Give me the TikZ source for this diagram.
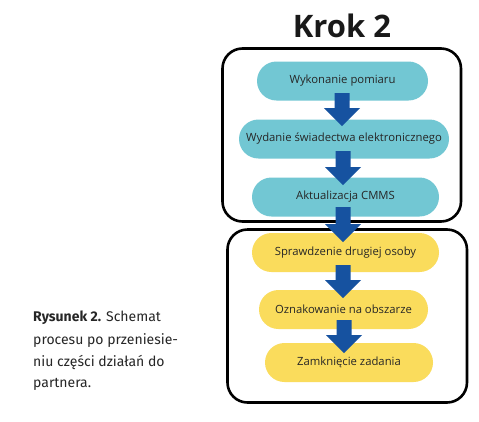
\documentclass[tikz,border=0pt]{standalone}
\usepackage{fontspec}
\setmainfont{Open Sans}
\newfontfamily\capfont{Fira Sans}
\definecolor{tealpill}{HTML}{72C7D3}
\definecolor{yellowpill}{HTML}{FADC5C}
\definecolor{arrowblue}{HTML}{1652A0}
\tikzset{
  pill/.style={rounded corners=19.5pt, minimum height=39pt, inner sep=0pt, font=\fontsize{11.3}{13}\selectfont, text=black!85},
  tealp/.style={pill, fill=tealpill},
  yellowp/.style={pill, fill=yellowpill},
  frame/.style={draw=black, line width=2.6pt, rounded corners=20pt},
  blockarrow/.style={fill=arrowblue, draw=none},
  capline/.style={anchor=base west, inner sep=0pt, font=\capfont\fontsize{14}{16}\selectfont, text=black!85}
}
\newcommand{\blockarr}[3]{% x, ytop, ytip
  \fill[blockarrow] (#1-7.5,#2) -- (#1+7.5,#2) -- (#1+7.5,#3-18) -- (#1+18,#3-18) -- (#1,#3) -- (#1-18,#3-18) -- (#1-7.5,#3-18) -- cycle;
}
\begin{document}
\begin{tikzpicture}[x=1pt,y=-1pt]
\useasboundingbox[fill=white] (0,0) rectangle (479,421);
% title
\node[font=\fontsize{31}{34}\selectfont\bfseries, text=black!90, anchor=base] (title) at (342,37) {Krok 2};
% frames
\draw[frame] (222.5,48.5) rectangle (461,221.5) coordinate (f1);
\draw[frame] (227.5,229.5) rectangle (467,402.5) coordinate (f2);
% pills
\node[tealp, minimum width=171pt] (p1) at (342.5,81) {Wykonanie pomiaru};
\node[tealp, minimum width=210pt] (p2) at (344,139) {Wydanie świadectwa elektronicznego};
\node[tealp, minimum width=187pt] (p3) at (345.5,197) {Aktualizacja CMMS};
\node[yellowp, minimum width=187pt] (p4) at (345.5,252.5) {Sprawdzenie drugiej osoby};
\node[yellowp, minimum width=169pt] (p5) at (343.5,309.5) {Oznakowanie na obszarze};
\node[yellowp, minimum width=168pt] (p6) at (349,362.5) {Zamknięcie zadania};
% arrows
\blockarr{342}{93}{126}
\blockarr{343}{151}{185}
\blockarr{343}{207}{242}
\blockarr{343}{265}{298}
\blockarr{344}{320}{353}
% caption
\node[capline] (cap1) at (33,321.7) {\textbf{Rysunek 2.} Schemat};
\node[capline] (cap2) at (33,344.3) {procesu po przeniesie-};
\node[capline] (cap3) at (33,366) {niu części działań do};
\node[capline] (cap4) at (33,387.7) {partnera.};
\end{tikzpicture}
\end{document}
